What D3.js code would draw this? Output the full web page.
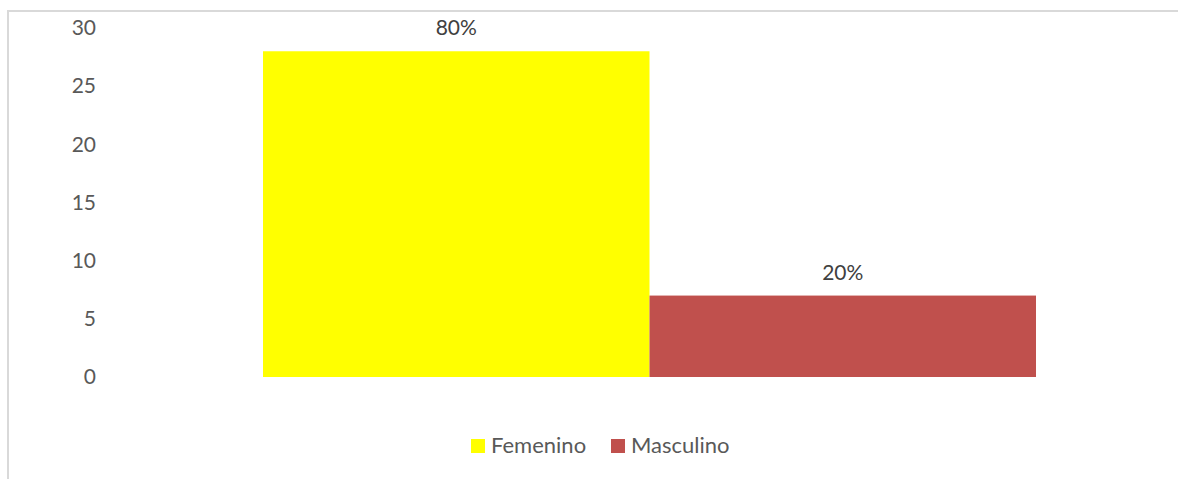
<!DOCTYPE html>
<html>
<head>
<meta charset="utf-8">
<script src="https://cdn.jsdelivr.net/npm/d3@7"></script>
<style>
  body { margin: 0; background: #fff; }
  svg { display: block; }
</style>
</head>
<body>
<svg id="chart"></svg>
<script>
// chart data
const categories = ["Femenino", "Masculino"];
const counts = [28, 7];
const percentLabels = ["80%", "20%"];
const colors = ["#ffff00", "#c0504d"];
const yTicks = [0, 5, 10, 15, 20, 25, 30];

const width = 1178, height = 479;
const font = "Lato, 'Open Sans', sans-serif";

const svg = d3.select("#chart")
  .attr("width", width)
  .attr("height", height);

// light frame around the chart area (right/bottom edges fall outside the picture)
svg.append("rect")
  .attr("x", 8).attr("y", 11)
  .attr("width", 1200).attr("height", 500)
  .attr("fill", "#fff")
  .attr("stroke", "#d9d9d9")
  .attr("stroke-width", 2);

// plot area
const plot = { left: 263, right: 1036, top: 28, bottom: 377 };

const x = d3.scaleBand()
  .domain(categories)
  .range([plot.left, plot.right])
  .padding(0);

const y = d3.scaleLinear()
  .domain([0, 30])
  .range([plot.bottom, plot.top]);

// y axis: labels only, no line, no ticks
const yAxis = d3.axisLeft(y)
  .tickValues(yTicks)
  .tickSize(0)
  .tickPadding(0);

const gy = svg.append("g")
  .attr("transform", "translate(96,0)")
  .call(yAxis);
gy.select(".domain").remove();
gy.selectAll("text")
  .attr("font-family", font)
  .attr("font-size", 21)
  .attr("fill", "#595959");

// bars
svg.append("g")
  .selectAll("rect")
  .data(categories)
  .join("rect")
    .attr("x", d => x(d))
    .attr("y", (d, i) => y(counts[i]))
    .attr("width", x.bandwidth())
    .attr("height", (d, i) => y(0) - y(counts[i]))
    .attr("fill", (d, i) => colors[i]);

// percentage labels above bars
svg.append("g")
  .selectAll("text")
  .data(categories)
  .join("text")
    .attr("x", d => x(d) + x.bandwidth() / 2)
    .attr("y", (d, i) => y(counts[i]) - 16)
    .attr("text-anchor", "middle")
    .attr("font-family", font)
    .attr("font-size", 21)
    .attr("fill", "#404040")
    .text((d, i) => percentLabels[i]);

// legend
const legendX = [471, 611];
const legend = svg.append("g")
  .selectAll("g")
  .data(categories)
  .join("g")
    .attr("transform", (d, i) => `translate(${legendX[i]},439)`);

legend.append("rect")
  .attr("width", 14)
  .attr("height", 14)
  .attr("fill", (d, i) => colors[i]);

legend.append("text")
  .attr("x", 20)
  .attr("y", 14)
  .attr("font-family", font)
  .attr("font-size", 22)
  .attr("fill", "#595959")
  .text(d => d);
</script>
</body>
</html>
